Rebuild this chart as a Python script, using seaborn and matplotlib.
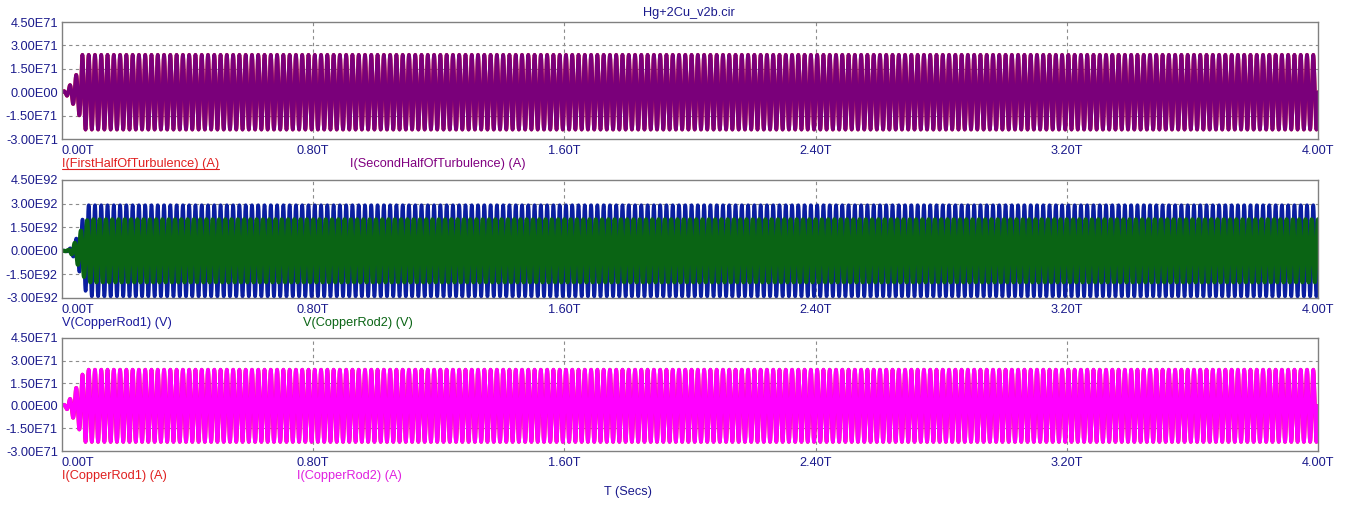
import numpy as np
import seaborn as sns
import matplotlib.pyplot as plt

# time axis, in T (1e12 s)
x_ticks = [0.0, 0.8, 1.6, 2.4, 3.2, 4.0]
x_tick_labels = ["0.00T", "0.80T", "1.60T", "2.40T", "3.20T", "4.00T"]
y_ticks = [-3.0, -1.5, 0.0, 1.5, 3.0, 4.5]
y_labels_e71 = ["-3.00E71", "-1.50E71", "0.00E00", "1.50E71", "3.00E71", "4.50E71"]
y_labels_e92 = ["-3.00E92", "-1.50E92", "0.00E00", "1.50E92", "3.00E92", "4.50E92"]

# oscillation: about 200 cycles over the run
cycles = 200

# envelope (time in T, peak amplitude)
turb_env_t = [0.0, 0.012, 0.025, 0.038, 0.05, 0.058, 0.064, 4.0]
turb_env_a = [0.0, 0.15, 0.45, 0.85, 1.3, 1.6, 2.4, 2.4]

rod_v1_env_t = [0.0, 0.02, 0.035, 0.048, 0.058, 0.068, 0.082, 4.0]
rod_v1_env_a = [0.0, 0.05, 0.35, 0.9, 1.5, 2.2, 2.9, 2.9]
rod_v2_env_t = [0.0, 0.02, 0.035, 0.048, 0.058, 0.068, 0.082, 4.0]
rod_v2_env_a = [0.0, 0.05, 0.3, 0.8, 1.2, 1.6, 2.0, 2.0]

rod_i_env_t = [0.0, 0.012, 0.025, 0.038, 0.05, 0.06, 0.07, 4.0]
rod_i_env_a = [0.0, 0.15, 0.45, 0.9, 1.4, 1.75, 2.4, 2.4]

NAVY = "#1a1a8c"
GRID = "#8c8c8c"
FS = 9.2


def wave(env_t, env_a, phase=0.0):
    t = np.linspace(0, 4.0, cycles * 24 + 1)
    amp = np.interp(t, env_t, env_a)
    return t, amp * np.sin(2 * np.pi * cycles / 4.0 * t + phase)


def style_axis(ax, ylabels):
    ax.set_xlim(0, 4.0)
    ax.set_ylim(-3.0, 4.5)
    ax.set_yticks(y_ticks)
    ax.set_yticklabels(ylabels)
    ax.set_xticks(x_ticks)
    ax.set_xticklabels(x_tick_labels)
    ax.tick_params(length=0, labelsize=FS, labelcolor=NAVY, pad=3)
    ax.tick_params(axis="x", pad=4)
    lbls = ax.get_xticklabels()
    lbls[0].set_ha("left")
    for s in ax.spines.values():
        s.set_color("#808080")
        s.set_linewidth(1.0)
    for y in [-1.5, 1.5, 3.0]:
        ax.axhline(y, color=GRID, lw=0.8, ls=(0, (3, 3)), zorder=0)
    for x in x_ticks[1:-1]:
        ax.axvline(x, color=GRID, lw=0.8, ls=(0, (3, 3)), zorder=0)
    ax.set_xlabel("")
    ax.set_ylabel("")


sns.set_style("white")
plt.rcParams["font.family"] = ["Liberation Sans", "DejaVu Sans"]

fig = plt.figure(figsize=(13.53, 5.13), dpi=100)
W, H = 1353, 513


def add_panel(top, bottom):
    return fig.add_axes([62 / W, (H - bottom) / H, 1256 / W, (bottom - top) / H])


ax1 = add_panel(22, 139)
ax2 = add_panel(180, 298)
ax3 = add_panel(338, 451)

LW = 2.6
t, y = wave(turb_env_t, turb_env_a)
sns.lineplot(x=t, y=y, ax=ax1, color="#e02020", linewidth=LW, estimator=None, sort=False)
sns.lineplot(x=t, y=y, ax=ax1, color="#7a007a", linewidth=LW, estimator=None, sort=False)
style_axis(ax1, y_labels_e71)

t, y = wave(rod_v1_env_t, rod_v1_env_a)
sns.lineplot(x=t, y=y, ax=ax2, color="#0a1ea0", linewidth=LW, estimator=None, sort=False)
t, y = wave(rod_v2_env_t, rod_v2_env_a, phase=np.pi / 2)
sns.lineplot(x=t, y=y, ax=ax2, color="#0a6414", linewidth=LW + 0.4, estimator=None, sort=False)
style_axis(ax2, y_labels_e92)

t, y = wave(rod_i_env_t, rod_i_env_a)
sns.lineplot(x=t, y=y, ax=ax3, color="#e02020", linewidth=LW, estimator=None, sort=False)
sns.lineplot(x=t, y=y, ax=ax3, color="#ff00ff", linewidth=LW, estimator=None, sort=False)
style_axis(ax3, y_labels_e71)


def label(x, y, s, color, underline=False):
    txt = fig.text(x / W, 1 - y / H, s, color=color, fontsize=FS, ha="left", va="center")
    if underline:
        fig.canvas.draw()
        bb = txt.get_window_extent()
        fig.add_artist(plt.Line2D([bb.x0 / W, bb.x1 / W], [(bb.y0 + 1) / H] * 2,
                                  color=color, lw=0.8))


fig.text(689 / W, 1 - 13 / H, "Hg+2Cu_v2b.cir", color=NAVY, fontsize=FS, ha="center", va="center")
label(62, 164, "I(FirstHalfOfTurbulence) (A)", "#e02020", underline=True)
label(350, 164, "I(SecondHalfOfTurbulence) (A)", "#800080")
label(62, 323, "V(CopperRod1) (V)", "#1a1a9c")
label(303, 323, "V(CopperRod2) (V)", "#0a6414")
label(62, 476, "I(CopperRod1) (A)", "#e02020")
label(297, 476, "I(CopperRod2) (A)", "#e020e0")
fig.text(628 / W, 1 - 492 / H, "T (Secs)", color=NAVY, fontsize=FS, ha="center", va="center")

fig.savefig("out.png", dpi=100)
